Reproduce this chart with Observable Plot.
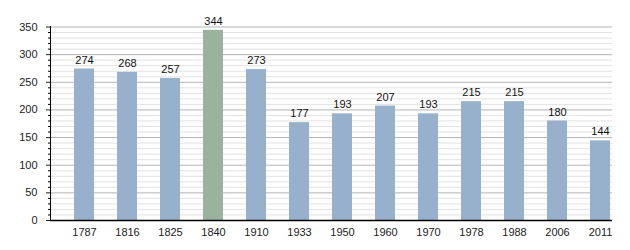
<!DOCTYPE html>
<html>
<head>
<meta charset="utf-8">
<script src="https://cdn.jsdelivr.net/npm/d3@7"></script>
<script src="https://cdn.jsdelivr.net/npm/@observablehq/plot@0.6"></script>
<style>
body { margin: 0; background: #fff; }
</style>
</head>
<body>
<div id="chart"></div>
<script>
const years = ["1787","1816","1825","1840","1910","1933","1950","1960","1970","1978","1988","2006","2011"];
const population = [274, 268, 257, 344, 273, 177, 193, 207, 193, 215, 215, 180, 144];
const highlightYear = "1840";
const majorTicks = [0, 50, 100, 150, 200, 250, 300, 350];
const minorTicks = d3.range(0, 351, 10).filter(v => v % 50 !== 0);

const data = years.map((y, i) => ({year: y, value: population[i]}));

const chart = Plot.plot({
  width: 630,
  height: 250,
  marginLeft: 50,
  marginRight: 18,
  marginTop: 26,
  marginBottom: 30,
  style: {fontFamily: "'Liberation Sans', Arial, sans-serif", fontSize: "11px", color: "#222", background: "#fff"},
  x: {domain: years, range: [62.5, 621.5], paddingInner: 0.535, paddingOuter: 0.2675, label: null},
  y: {domain: [0, 350], range: [220, 26.5], label: null},
  marks: [
    Plot.ruleY(minorTicks, {stroke: "#e2e2e2", strokeWidth: 1}),
    Plot.ruleY(majorTicks.filter(v => v > 0), {stroke: "#b4b4b4", strokeWidth: 1}),
    Plot.barY(data, {x: "year", y: "value", fill: d => d.year === highlightYear ? "#9bb39d" : "#97b0cc"}),
    Plot.text(data, {x: "year", y: "value", text: d => String(d.value), dy: -9, fill: "#111", fontSize: 11}),
    Plot.axisY(minorTicks, {tickSize: 2, text: null, stroke: "#000"}),
    Plot.axisY(majorTicks, {tickSize: 4, tickPadding: 9, fill: "#222", fontSize: 11}),
    Plot.axisX({tickSize: 0, tickPadding: 8, fill: "#222", fontSize: 11}),
    Plot.frame({anchor: "left", stroke: "#000"}),
    Plot.ruleY([0], {stroke: "#000", strokeWidth: 1.5})
  ]
});
document.getElementById("chart").append(chart);
</script>
</body>
</html>
